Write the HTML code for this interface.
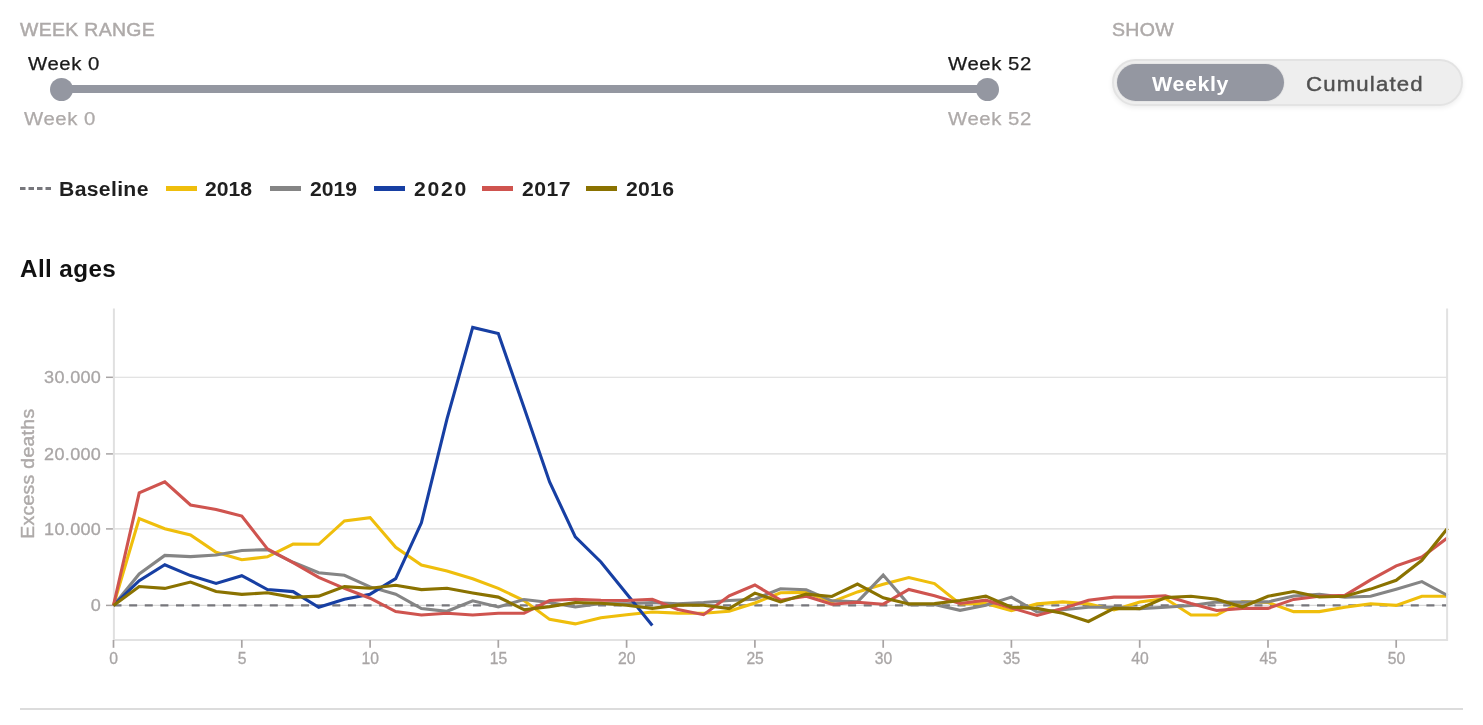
<!DOCTYPE html>
<html lang="en"><head><meta charset="utf-8"><title>Excess deaths</title>
<style>
html,body{margin:0;padding:0;background:#fff;}
body{width:1483px;height:725px;position:relative;overflow:hidden;font-family:"Liberation Sans",sans-serif;color:#1a1a1a;}
.abs{position:absolute;white-space:nowrap;line-height:1;transform-origin:0 0;}
.lab{color:#aeaaa9;font-size:18px;-webkit-text-stroke:.45px #aeaaa9;}
.wk{font-size:17.6px;letter-spacing:.5px;transform:scaleX(1.155);-webkit-text-stroke:.25px;}
.wk.g{color:#aeaaa9;}
.track{position:absolute;left:61px;top:85px;width:926px;height:8px;background:#9497a1;}
.knob{position:absolute;width:23px;height:23px;border-radius:50%;background:#9497a1;top:78px;}
.toggle{position:absolute;left:1112.3px;top:59.2px;width:346.5px;height:42.4px;border:2px solid #e3e3e3;border-radius:25px;background:#eeeeee;box-shadow:0 2px 5px rgba(0,0,0,.07);}
.on{position:absolute;left:2.8px;top:2.7px;width:167.3px;height:37px;border-radius:19px;background:#9497a1;box-shadow:0 0 0 1px #e6e6e6;}
.tg{font-size:19.6px;}
.leg{position:absolute;top:179px;font-weight:bold;font-size:20px;line-height:20px;letter-spacing:0;white-space:nowrap;transform-origin:0 0;transform:scaleX(1.06);color:#1f1f1f;}
.sw{position:absolute;top:186.1px;height:4.8px;width:30.8px;}
svg text{font-family:"Liberation Sans",sans-serif;font-size:16.4px;fill:#a9a6a6;letter-spacing:.3px;stroke:#a9a6a6;stroke-width:.3px;}
svg .xl text{letter-spacing:0;font-size:15.7px;}
svg polyline{fill:none;stroke-width:3.1;stroke-linejoin:miter;}
</style></head><body>
<div class="abs lab" style="left:20px;top:21.4px;letter-spacing:.3px;transform:scaleX(1.08);">WEEK RANGE</div>
<div class="abs wk" style="left:27.5px;top:56.3px;">Week 0</div>
<div class="abs wk" style="left:947.5px;top:56.3px;">Week 52</div>
<div class="track"></div>
<div class="knob" style="left:49.9px;"></div>
<div class="knob" style="left:976.1px;"></div>
<div class="abs wk g" style="left:24.2px;top:111.3px;">Week 0</div>
<div class="abs wk g" style="left:947.5px;top:111.3px;">Week 52</div>
<div class="abs lab" style="left:1111.5px;top:21.4px;letter-spacing:.3px;transform:scaleX(1.085);">SHOW</div>
<div class="toggle"><div class="on"></div></div>
<div class="abs tg" style="left:1152px;top:75px;color:#fff;font-weight:bold;letter-spacing:.6px;transform:scaleX(1.09);">Weekly</div>
<div class="abs tg" style="left:1305.5px;top:74.9px;color:#505050;letter-spacing:1px;transform:scaleX(1.135);-webkit-text-stroke:.4px #505050;">Cumulated</div>
<svg class="abs" style="left:0;top:0" width="1483" height="725" viewBox="0 0 1483 725">
<line x1="20" x2="51" y1="188.5" y2="188.5" stroke="#77777c" stroke-width="3" stroke-dasharray="5.5 3"/>
</svg>
<div class="leg" style="left:59.3px;letter-spacing:.3px;">Baseline</div>
<div class="sw" style="left:166px;background:#efbe0c"></div><div class="leg" style="left:205px;">2018</div>
<div class="sw" style="left:270px;background:#858585"></div><div class="leg" style="left:310px;">2019</div>
<div class="sw" style="left:374px;background:#173fa3"></div><div class="leg" style="left:413.5px;letter-spacing:1.65px;">2020</div>
<div class="sw" style="left:482px;background:#cf544f"></div><div class="leg" style="left:522px;letter-spacing:.4px;">2017</div>
<div class="sw" style="left:586px;background:#8a7200"></div><div class="leg" style="left:626px;letter-spacing:.25px;">2016</div>
<div class="abs" style="left:19.8px;top:257.6px;font-weight:bold;font-size:23.3px;letter-spacing:.4px;color:#111;transform:scaleX(1.04);">All ages</div>
<svg class="abs" style="left:0;top:0" width="1483" height="725" viewBox="0 0 1483 725">
<defs><clipPath id="cp"><rect x="112" y="300" width="1337" height="340"/></clipPath></defs>
<line x1="114" x2="1447" y1="605.4" y2="605.4" stroke="#dadada" stroke-width="1.1"/>
<line x1="106" x2="113.5" y1="605.4" y2="605.4" stroke="#a8a4a4" stroke-width="1.5"/>
<line x1="114" x2="1447" y1="528.9" y2="528.9" stroke="#dadada" stroke-width="1.1"/>
<line x1="106" x2="113.5" y1="528.9" y2="528.9" stroke="#a8a4a4" stroke-width="1.5"/>
<line x1="114" x2="1447" y1="453.9" y2="453.9" stroke="#dadada" stroke-width="1.1"/>
<line x1="106" x2="113.5" y1="453.9" y2="453.9" stroke="#a8a4a4" stroke-width="1.5"/>
<line x1="114" x2="1447" y1="377.3" y2="377.3" stroke="#dadada" stroke-width="1.1"/>
<line x1="106" x2="113.5" y1="377.3" y2="377.3" stroke="#a8a4a4" stroke-width="1.5"/>

<line x1="113.9" x2="113.9" y1="308.5" y2="641" stroke="#e0e0e0" stroke-width="2"/>
<line x1="113" x2="1448" y1="640" y2="640" stroke="#e2e2e2" stroke-width="2"/>
<line x1="113.5" x2="113.5" y1="640" y2="647.8" stroke="#a8a4a4" stroke-width="1.7"/>
<line x1="241.8" x2="241.8" y1="640" y2="647.8" stroke="#a8a4a4" stroke-width="1.7"/>
<line x1="370.1" x2="370.1" y1="640" y2="647.8" stroke="#a8a4a4" stroke-width="1.7"/>
<line x1="498.3" x2="498.3" y1="640" y2="647.8" stroke="#a8a4a4" stroke-width="1.7"/>
<line x1="626.6" x2="626.6" y1="640" y2="647.8" stroke="#a8a4a4" stroke-width="1.7"/>
<line x1="754.9" x2="754.9" y1="640" y2="647.8" stroke="#a8a4a4" stroke-width="1.7"/>
<line x1="883.2" x2="883.2" y1="640" y2="647.8" stroke="#a8a4a4" stroke-width="1.7"/>
<line x1="1011.4" x2="1011.4" y1="640" y2="647.8" stroke="#a8a4a4" stroke-width="1.7"/>
<line x1="1139.7" x2="1139.7" y1="640" y2="647.8" stroke="#a8a4a4" stroke-width="1.7"/>
<line x1="1268.0" x2="1268.0" y1="640" y2="647.8" stroke="#a8a4a4" stroke-width="1.7"/>
<line x1="1396.2" x2="1396.2" y1="640" y2="647.8" stroke="#a8a4a4" stroke-width="1.7"/>

<g clip-path="url(#cp)">
<line x1="113.5" x2="1447.5" y1="605.4" y2="605.4" stroke="#77777c" stroke-width="2.2" stroke-dasharray="8 7.63"/>
<polyline points="113.5,605.4 139.2,518.6 164.8,528.7 190.5,534.9 216.1,552.3 241.8,559.7 267.4,556.8 293.1,544.1 318.7,544.3 344.4,520.9 370.1,517.6 395.7,547.3 421.4,565.0 447.0,571.0 472.7,578.8 498.3,588.4 524.0,600.5 549.6,619.4 575.3,623.9 600.9,617.8 626.6,614.7 652.3,612.0 677.9,613.1 703.6,613.3 729.2,611.3 754.9,603.0 780.5,592.7 806.2,592.4 831.8,601.9 857.5,591.9 883.2,584.3 908.8,577.5 934.5,583.6 960.1,603.9 985.8,603.5 1011.4,610.7 1037.1,603.9 1062.7,601.9 1088.4,603.9 1114.0,610.0 1139.7,601.9 1165.4,598.5 1191.0,615.0 1216.7,615.0 1242.3,601.6 1268.0,602.5 1293.6,611.6 1319.3,611.6 1344.9,607.2 1370.6,603.8 1396.2,605.4 1421.9,596.2 1447.6,596.2" stroke="#efbe0c"/>
<polyline points="113.5,605.4 139.2,573.9 164.8,555.4 190.5,556.6 216.1,555.0 241.8,550.5 267.4,549.6 293.1,562.3 318.7,572.8 344.4,575.3 370.1,586.9 395.7,594.2 421.4,608.6 447.0,611.3 472.7,600.8 498.3,607.0 524.0,599.5 549.6,602.5 575.3,607.0 600.9,603.5 626.6,603.9 652.3,602.5 677.9,603.9 703.6,602.5 729.2,600.5 754.9,599.2 780.5,588.7 806.2,589.7 831.8,600.8 857.5,601.9 883.2,575.1 908.8,604.6 934.5,604.6 960.1,610.3 985.8,605.2 1011.4,597.1 1037.1,612.0 1062.7,609.7 1088.4,607.3 1114.0,607.3 1139.7,608.6 1165.4,607.3 1191.0,605.5 1216.7,602.0 1242.3,602.1 1268.0,601.9 1293.6,596.0 1319.3,594.3 1344.9,597.3 1370.6,596.2 1396.2,589.2 1421.9,581.6 1447.6,595.5" stroke="#858585"/>
<polyline points="113.5,605.4 139.2,580.7 164.8,564.8 190.5,575.6 216.1,583.4 241.8,575.7 267.4,589.5 293.1,591.6 318.7,607.3 344.4,599.2 370.1,594.2 395.7,578.7 421.4,522.8 447.0,418.9 472.7,327.4 498.3,333.5 524.0,407.5 549.6,482.0 575.3,536.8 600.9,562.0 626.6,593.8 652.3,625.5" stroke="#173fa3"/>
<polyline points="113.5,605.4 139.2,492.9 164.8,481.9 190.5,505.0 216.1,509.4 241.8,516.1 267.4,548.9 293.1,562.6 318.7,577.3 344.4,588.3 370.1,598.2 395.7,611.6 421.4,615.0 447.0,613.3 472.7,615.0 498.3,613.3 524.0,613.1 549.6,600.5 575.3,599.2 600.9,600.2 626.6,600.5 652.3,599.2 677.9,609.5 703.6,614.7 729.2,595.8 754.9,585.0 780.5,600.2 806.2,596.2 831.8,604.2 857.5,602.3 883.2,604.2 908.8,589.4 934.5,595.8 960.1,603.5 985.8,600.2 1011.4,607.9 1037.1,615.4 1062.7,608.6 1088.4,600.2 1114.0,597.1 1139.7,597.1 1165.4,595.8 1191.0,603.5 1216.7,610.5 1242.3,608.4 1268.0,608.4 1293.6,599.4 1319.3,596.2 1344.9,595.4 1370.6,579.8 1396.2,565.8 1421.9,557.0 1447.6,537.8" stroke="#cf544f"/>
<polyline points="113.5,605.4 139.2,586.5 164.8,588.4 190.5,582.0 216.1,591.5 241.8,594.4 267.4,592.8 293.1,597.4 318.7,596.1 344.4,586.6 370.1,588.2 395.7,585.2 421.4,589.6 447.0,588.3 472.7,593.0 498.3,597.1 524.0,609.7 549.6,606.6 575.3,602.5 600.9,603.2 626.6,605.2 652.3,608.4 677.9,605.1 703.6,605.2 729.2,608.6 754.9,593.1 780.5,601.9 806.2,594.1 831.8,596.5 857.5,584.1 883.2,597.8 908.8,603.9 934.5,603.6 960.1,600.5 985.8,596.2 1011.4,607.2 1037.1,608.4 1062.7,613.3 1088.4,621.5 1114.0,608.4 1139.7,608.6 1165.4,597.6 1191.0,596.2 1216.7,599.2 1242.3,607.0 1268.0,596.2 1293.6,591.5 1319.3,597.0 1344.9,596.2 1370.6,589.1 1396.2,580.3 1421.9,560.3 1447.6,528.2" stroke="#8a7200"/>
</g>
<line x1="1447.1" x2="1447.1" y1="308.5" y2="641" stroke="#e2e2e2" stroke-width="2"/>
<g><text transform="translate(101.2,611.2) scale(1.1,1)" text-anchor="end">0</text>
<text transform="translate(101.2,534.7) scale(1.1,1)" text-anchor="end">10.000</text>
<text transform="translate(101.2,459.7) scale(1.1,1)" text-anchor="end">20.000</text>
<text transform="translate(101.2,383.1) scale(1.1,1)" text-anchor="end">30.000</text>
</g>
<g class="xl"><text transform="translate(113.7,663.8) scale(1,1)" text-anchor="middle">0</text>
<text transform="translate(242.0,663.8) scale(1,1)" text-anchor="middle">5</text>
<text transform="translate(370.2,663.8) scale(1,1)" text-anchor="middle">10</text>
<text transform="translate(498.5,663.8) scale(1,1)" text-anchor="middle">15</text>
<text transform="translate(626.8,663.8) scale(1,1)" text-anchor="middle">20</text>
<text transform="translate(755.1,663.8) scale(1,1)" text-anchor="middle">25</text>
<text transform="translate(883.4,663.8) scale(1,1)" text-anchor="middle">30</text>
<text transform="translate(1011.6,663.8) scale(1,1)" text-anchor="middle">35</text>
<text transform="translate(1139.9,663.8) scale(1,1)" text-anchor="middle">40</text>
<text transform="translate(1268.2,663.8) scale(1,1)" text-anchor="middle">45</text>
<text transform="translate(1396.5,663.8) scale(1,1)" text-anchor="middle">50</text>
</g>
<text transform="translate(34.2,473.7) rotate(-90) scale(1.055,1)" text-anchor="middle" style="font-size:18.4px;letter-spacing:.3px;fill:#aeaaa9;stroke:#aeaaa9;stroke-width:.4px">Excess deaths</text>
<line x1="20" x2="1463" y1="709" y2="709" stroke="#dcdcdc" stroke-width="2"/>
</svg>
</body></html>
